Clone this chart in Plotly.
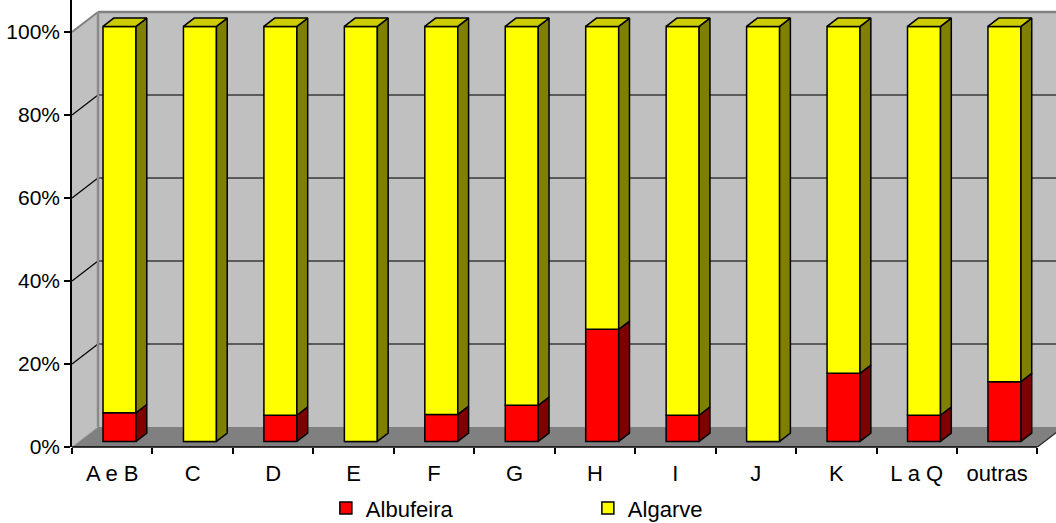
import plotly.graph_objects as go

categories = ["A e B", "C", "D", "E", "F", "G", "H", "I", "J", "K", "L a Q", "outras"]
albufeira = [6.9, 0.0, 6.3, 0.0, 6.5, 8.7, 27.0, 6.3, 0.0, 16.4, 6.3, 14.4]
algarve = [93.1, 100.0, 93.7, 100.0, 93.5, 91.3, 73.0, 93.7, 100.0, 83.6, 93.7, 85.6]
y_ticks = [0, 20, 40, 60, 80, 100]
y_tick_labels = ["0%", "20%", "40%", "60%", "80%", "100%"]

FONT = "Liberation Sans, Arial, sans-serif"

# 3-D projection parameters (in axis units)
DX = 26 / 80.45     # depth offset along x (category units)
DY = 20 / 4.15      # depth offset along y (percent units)
F0 = 0.28           # depth position of bar front face
FD = 0.415          # bar depth fraction
W = 0.41            # bar width
XS, YS = F0 * DX, F0 * DY
DDX, DDY = FD * DX, FD * DY

n = len(categories)
tot = [a + b for a, b in zip(albufeira, algarve)]
alb_pct = [a / t * 100 for a, t in zip(albufeira, tot)]
alg_pct = [b / t * 100 for b, t in zip(algarve, tot)]

X_MAX = -0.5 + 984 / 80.45
Y_MAX = 447 / 4.15

shapes = []
# left side wall
shapes.append(dict(type="path", xref="x", yref="y", layer="below",
                   path=f"M{-0.5},{0} L{-0.5},{100} L{-0.5+DX},{100+DY} L{-0.5+DX},{DY} Z",
                   fillcolor="#C0C0C0", line=dict(width=0)))
# back wall
shapes.append(dict(type="path", xref="x", yref="y", layer="below",
                   path=f"M{-0.5+DX},{DY} L{13},{DY} L{13},{100+DY} L{-0.5+DX},{100+DY} Z",
                   fillcolor="#C0C0C0", line=dict(width=0)))
# floor
shapes.append(dict(type="path", xref="x", yref="y", layer="below",
                   path=f"M{-0.5},{0} L{-0.5+DX},{DY} L{n-0.5+DX},{DY} L{n-0.5},{0} Z",
                   fillcolor="#808080", line=dict(width=0)))
# gridlines
for v in y_ticks[1:-1]:
    shapes.append(dict(type="line", xref="x", yref="y", layer="below",
                       x0=-0.5+DX, x1=13, y0=v+DY, y1=v+DY,
                       line=dict(color="#3a3a3a", width=1.3)))
    shapes.append(dict(type="line", xref="x", yref="y", layer="below",
                       x0=-0.5, x1=-0.5+DX, y0=v, y1=v+DY,
                       line=dict(color="#000000", width=1.2)))
# wall borders
shapes.append(dict(type="line", xref="x", yref="y", layer="below",
                   x0=-0.5+DX, x1=13, y0=100+DY, y1=100+DY,
                   line=dict(color="#808080", width=2.5)))
shapes.append(dict(type="line", xref="x", yref="y", layer="below",
                   x0=-0.5, x1=-0.5+DX, y0=100, y1=100+DY,
                   line=dict(color="#808080", width=2)))
shapes.append(dict(type="line", xref="x", yref="y", layer="below",
                   x0=-0.5+DX, x1=-0.5+DX, y0=DY, y1=100+DY,
                   line=dict(color="#8a8a8a", width=2.5)))
shapes.append(dict(type="line", xref="x", yref="y", layer="below",
                   x0=-0.5, x1=-0.5+DX, y0=0, y1=DY,
                   line=dict(color="#a0a0a0", width=1)))
# floor right edge
shapes.append(dict(type="line", xref="x", yref="y", layer="below",
                   x0=n-0.5, x1=n-0.5+DX, y0=0, y1=DY,
                   line=dict(color="#222222", width=1.2)))
# x axis line (front edge of floor)
shapes.append(dict(type="line", xref="x", yref="paper", layer="above",
                   x0=-0.5, x1=n-0.5, y0=0, y1=0,
                   line=dict(color="#000000", width=1.5)))

fig = go.Figure()

xc = [i + XS for i in range(n)]

fig.add_trace(go.Bar(name="Albufeira", x=xc, y=alb_pct, base=[YS] * n, width=W,
                     marker=dict(color="#FF0000", line=dict(color="#000000", width=1.5))))
fig.add_trace(go.Bar(name="Algarve", x=xc, y=alg_pct, base=[YS + a for a in alb_pct], width=W,
                     marker=dict(color="#FFFF00", line=dict(color="#000000", width=1.5))))


def side_polys(bottoms, tops):
    xs, ys = [], []
    for i in range(n):
        b, t = bottoms[i], tops[i]
        if t - b <= 0:
            continue
        xr = xc[i] + W / 2
        xs += [xr, xr + DDX, xr + DDX, xr, xr, None]
        ys += [b, b + DDY, t + DDY, t, b, None]
    return xs, ys


def top_polys(tops):
    xs, ys = [], []
    for i in range(n):
        t = tops[i]
        xl, xr = xc[i] - W / 2, xc[i] + W / 2
        xs += [xl, xl + DDX, xr + DDX, xr, xl, None]
        ys += [t, t + DDY, t + DDY, t, t, None]
    return xs, ys


red_b = [YS] * n
red_t = [YS + a for a in alb_pct]
yel_t = [YS + a + b for a, b in zip(alb_pct, alg_pct)]

sx, sy = side_polys(red_b, red_t)
fig.add_trace(go.Scatter(x=sx, y=sy, mode="lines", fill="toself", fillcolor="#800000",
                         line=dict(color="#000000", width=1.5), showlegend=False, hoverinfo="skip"))
sx, sy = side_polys(red_t, yel_t)
fig.add_trace(go.Scatter(x=sx, y=sy, mode="lines", fill="toself", fillcolor="#808000",
                         line=dict(color="#000000", width=1.5), showlegend=False, hoverinfo="skip"))
tx, ty = top_polys(yel_t)
fig.add_trace(go.Scatter(x=tx, y=ty, mode="lines", fill="toself", fillcolor="#CCCC00",
                         line=dict(color="#000000", width=1.5), showlegend=False, hoverinfo="skip"))

fig.update_layout(
    width=1056, height=523,
    margin=dict(l=72, r=0, t=0, b=76, autoexpand=False),
    paper_bgcolor="white", plot_bgcolor="white",
    barmode="overlay",
    shapes=shapes,
    font=dict(family=FONT, size=21, color="black"),
    xaxis=dict(range=[-0.5, X_MAX], tickmode="array", tickvals=list(range(n)), ticktext=categories,
               ticks="", showgrid=False, zeroline=False, showline=False, automargin=False,
               ticklabelstandoff=11,
               minor=dict(tickmode="array", tickvals=[i - 0.5 for i in range(n + 1)],
                          ticks="outside", ticklen=6, tickwidth=1.5, tickcolor="black", showgrid=False),
               tickfont=dict(family=FONT, size=22)),
    yaxis=dict(range=[0, Y_MAX], tickmode="array", tickvals=y_ticks, ticktext=y_tick_labels,
               ticks="outside", ticklen=6, tickwidth=1.5, tickcolor="black", automargin=False,
               showline=True, linecolor="black", linewidth=1.5,
               showgrid=False, zeroline=False, tickfont=dict(family=FONT, size=21)),
    legend=dict(orientation="h", x=0.258, xanchor="left", y=-0.137, yanchor="middle",
                entrywidth=217, entrywidthmode="pixels",
                font=dict(family=FONT, size=22), bgcolor="rgba(0,0,0,0)", traceorder="normal"),
    showlegend=True,
)

fig.write_html("out.html", config={"displayModeBar": False},
               post_script="document.body.style.margin='0px';document.body.style.overflow='hidden';")
